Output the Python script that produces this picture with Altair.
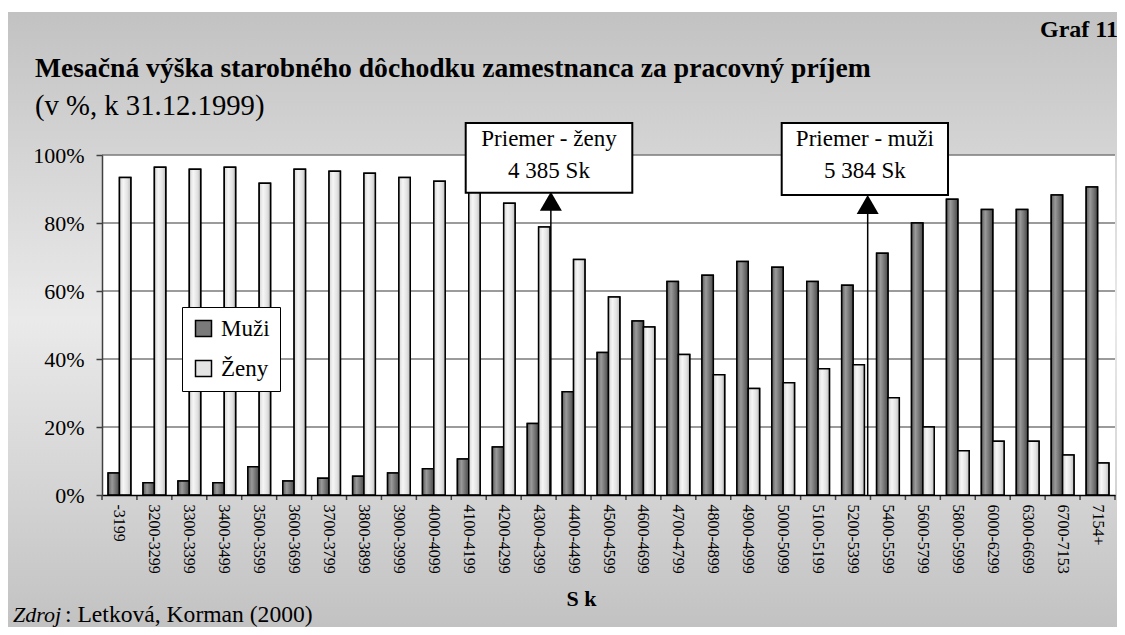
import altair as alt
import pandas as pd

# ---------------- data ----------------
categories = ["-3199", "3200-3299", "3300-3399", "3400-3499", "3500-3599", "3600-3699",
              "3700-3799", "3800-3899", "3900-3999", "4000-4099", "4100-4199", "4200-4299",
              "4300-4399", "4400-4499", "4500-4599", "4600-4699", "4700-4799", "4800-4899",
              "4900-4999", "5000-5099", "5100-5199", "5200-5399", "5400-5599", "5600-5799",
              "5800-5999", "6000-6299", "6300-6699", "6700-7153", "7154+"]
muzi = [6.5, 3.6, 4.1, 3.6, 8.3, 4.1, 4.9, 5.5, 6.5, 7.7, 10.6, 14.1, 21.0, 30.4, 41.9,
        51.2, 62.8, 64.6, 68.7, 67.0, 62.8, 61.7, 71.1, 80.0, 87.0, 84.0, 84.0, 88.2, 90.6]
zeny = [93.4, 96.4, 95.8, 96.4, 91.7, 95.8, 95.2, 94.6, 93.4, 92.3, 89.4, 85.8, 78.8, 69.3,
        58.2, 49.4, 41.3, 35.4, 31.3, 33.0, 37.1, 38.3, 28.6, 20.0, 13.0, 15.8, 15.8, 11.8, 9.4]
series = ["Muži", "Ženy"]
y_ticks = [0.0, 0.2, 0.4, 0.6, 0.8, 1.0]

avg_titles = ["Priemer - ženy", "Priemer - muži"]
avg_values = [4385, 5384]
avg_value_labels = ["4 385 Sk", "5 384 Sk"]
avg_categories = ["4300-4399", "5200-5399"]
avg_cat_low = [4300, 5200]
avg_cat_high = [4400, 5400]

title_text = "Mesačná výška starobného dôchodku zamestnanca za pracovný príjem"
subtitle_text = "(v %, k 31.12.1999)"
graf_text = "Graf 11"
source_italic = "Zdroj"
source_rest = ": Letková, Korman (2000)"
x_title = "S k"

FONT = "Liberation Serif"
W, H = 1013, 340

rows = []
for c, m, z in zip(categories, muzi, zeny):
    rows.append({"cat": c, "series": "Muži", "value": m / 100})
    rows.append({"cat": c, "series": "Ženy", "value": z / 100})
df = pd.DataFrame(rows)
one = pd.DataFrame({"k": [0]})


def vgrad(stops):
    return alt.LinearGradient(gradient="linear", x1=0, x2=0, y1=0, y2=1,
                              stops=[alt.GradientStop(color=c, offset=o) for o, c in stops])


def hgrad(stops):
    return alt.LinearGradient(gradient="linear", x1=0, x2=1, y1=0, y2=0,
                              stops=[alt.GradientStop(color=c, offset=o) for o, c in stops])


x_scale = alt.Scale(paddingInner=0, paddingOuter=0)
y_scale = alt.Scale(domain=[0, 1], nice=False)
axis_x = alt.Axis(orient="bottom", labelAngle=90, labelFont=FONT, labelFontSize=16,
                  labelColor="black", ticks=False, labelPadding=9, grid=False,
                  domainColor="black", domainWidth=1.5, zindex=1,
                  titleFont=FONT, titleFontSize=22, titleFontWeight="bold",
                  titleColor="black", titleX=479, titleY=103, titleAlign="center",
                  titleBaseline="middle", labelOverlap=False)
axis_y = alt.Axis(orient="left", values=y_ticks, format=".0%", grid=False, labelFont=FONT,
                  labelFontSize=22, labelColor="black", tickSize=6, tickColor="#404040",
                  tickWidth=1.5, labelPadding=12, domainColor="#404040", domainWidth=1.5,
                  zindex=1)


def X(band=None):
    if band is None:
        return alt.X("cat:N", sort=categories, scale=x_scale, title=x_title, axis=axis_x)
    return alt.X("cat:N", sort=categories, scale=x_scale, title=x_title, axis=axis_x,
                 bandPosition=band)


def Y():
    return alt.Y("value:Q", scale=y_scale, title=None, axis=axis_y)


off_enc = alt.XOffset("series:N", sort=series,
                      scale=alt.Scale(domain=series, paddingOuter=0.54, paddingInner=0))

# background (chart area gradient) and white plot area
bg = alt.Chart(one).mark_rect(
    fill=vgrad([(0, "#c2c2c2"), (0.5, "#eaeaea"), (1, "#c2c2c2")])
).encode(x=alt.value(-94), x2=alt.value(W + 4), y=alt.value(-143), y2=alt.value(H + 132))
plot_bg = alt.Chart(one).mark_rect(fill="white").encode(
    x=alt.value(0), x2=alt.value(W), y=alt.value(0), y2=alt.value(H))

grid = alt.Chart(pd.DataFrame({"value": y_ticks[1:]})).mark_rule(
    color="#7a7a7a", strokeWidth=1.5
).encode(y=Y())

bars = alt.Chart(df).mark_bar(stroke="black", strokeWidth=1.5).encode(
    x=X(),
    xOffset=off_enc,
    y=Y(),
    color=alt.Color("series:N", sort=series,
                    scale=alt.Scale(domain=series, range=["#7a7a7a", "#e4e4e4"]),
                    legend=alt.Legend(orient="none", legendX=80, legendY=152, title=None,
                                      labelFont=FONT, labelFontSize=23, labelColor="black",
                                      symbolType="square", symbolSize=256,
                                      symbolStrokeColor="black", symbolStrokeWidth=1.5,
                                      symbolOpacity=1, strokeColor="black", fillColor="white",
                                      padding=10, rowPadding=16, labelOffset=6)),
)

grad_m = hgrad([(0, "#5e5e5e"), (0.35, "#9a9a9a"), (0.65, "#767676"), (1, "#4a4a4a")])
grad_z = hgrad([(0, "#d4d4d4"), (0.35, "#f6f6f6"), (0.7, "#e2e2e2"), (1, "#bcbcbc")])


def overlay(name, grad):
    return alt.Chart(df).transform_filter(alt.datum.series == name).mark_bar(
        fill=grad, stroke="black", strokeWidth=1.5
    ).encode(x=X(), xOffset=off_enc, y=Y())


ov_m = overlay("Muži", grad_m)
ov_z = overlay("Ženy", grad_z)

ticks = alt.Chart(pd.DataFrame({"cat": categories})).mark_rule(
    color="#404040", strokeWidth=1.5
).encode(x=X(0), y=alt.value(H), y2=alt.value(H + 5))
tick_end = alt.Chart(one).mark_rule(color="#404040", strokeWidth=1.5).encode(
    x=alt.value(W), y=alt.value(H), y2=alt.value(H + 5))

layers = [bg, plot_bg, grid, bars, ov_m, ov_z, ticks, tick_end]

# average annotations
box_x = [(363.7, 530.3), (679.7, 846.0)]
box_y = [(-32, 37.7), (-32, 40)]
tip_y = [36.7, 40.0]
for i in range(2):
    frac = (avg_values[i] - avg_cat_low[i]) / (avg_cat_high[i] - avg_cat_low[i])
    adf = pd.DataFrame({"cat": [avg_categories[i]]})
    layers.append(alt.Chart(adf).mark_rule(color="black", strokeWidth=1.5).encode(
        x=X(frac), y=alt.value(H), y2=alt.value(tip_y[i] + 15)))
    layers.append(alt.Chart(adf).mark_point(shape="triangle-up", filled=True, size=484,
                                            color="black", opacity=1).encode(
        x=X(frac), y=alt.value(tip_y[i] + 9.5)))
    layers.append(alt.Chart(one).mark_rect(fill="white", stroke="black", strokeWidth=2).encode(
        x=alt.value(box_x[i][0]), x2=alt.value(box_x[i][1]),
        y=alt.value(box_y[i][0]), y2=alt.value(box_y[i][1])))
    cx = (box_x[i][0] + box_x[i][1]) / 2
    layers.append(alt.Chart(one).mark_text(font=FONT, fontSize=23, color="black",
                                           align="center", baseline="alphabetic").encode(
        x=alt.value(cx), y=alt.value(-9), text=alt.value(avg_titles[i])))
    layers.append(alt.Chart(one).mark_text(font=FONT, fontSize=23, color="black",
                                           align="center", baseline="alphabetic").encode(
        x=alt.value(cx), y=alt.value(23), text=alt.value(avg_value_labels[i])))


def txt(s, x, y, size, weight="normal", style="normal", align="left"):
    return alt.Chart(one).mark_text(font=FONT, fontSize=size, fontWeight=weight,
                                    fontStyle=style, color="black", align=align,
                                    baseline="alphabetic").encode(
        x=alt.value(x), y=alt.value(y), text=alt.value(s))


layers += [
    txt(graf_text, 1016, -118, 24, weight="bold", align="right"),
    txt(title_text, -67, -78, 27.6, weight="bold"),
    txt(subtitle_text, -67, -40, 28.7),
    txt(source_italic, -89, 467, 22, style="italic"),
    txt(source_rest, -37, 467, 23.6),
]

chart = alt.layer(*layers).properties(
    width=W, height=H,
    autosize=alt.AutoSizeParams(type="none"),
    padding={"left": 94, "top": 147, "right": 2, "bottom": 132},
    background="white",
).configure_view(stroke=None)

chart.save("out.html", embed_options={"renderer": "svg", "actions": False})
